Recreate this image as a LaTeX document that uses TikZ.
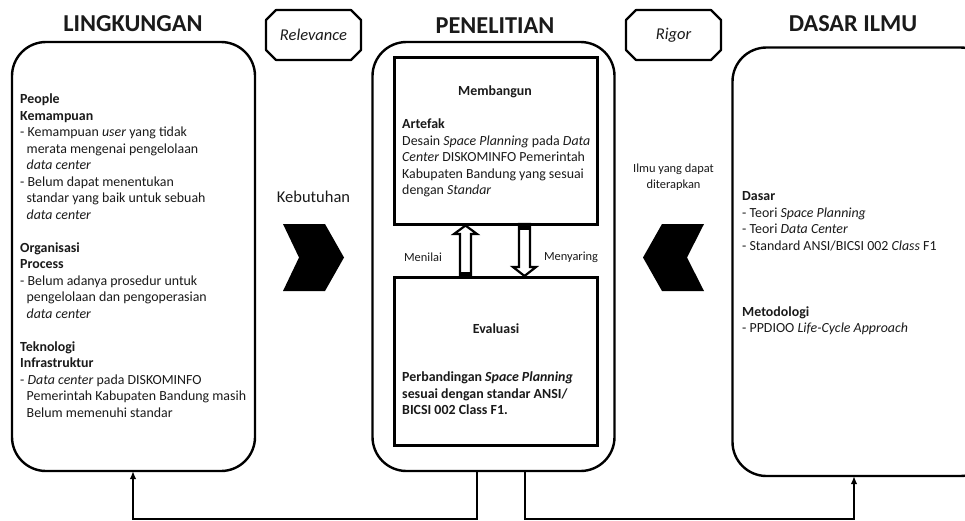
\documentclass[tikz,border=0pt]{standalone}
\usepackage{fontspec}
\setmainfont{Carlito}
\usetikzlibrary{arrows.meta}
\definecolor{ink}{HTML}{1A1A1A}
\newcommand{\bodyfont}{\fontsize{13.9}{16.5}\selectfont}
\newcommand{\hang}{\hspace*{6.5pt}}
\tikzset{
  x=1pt,y=-1pt,
  panel/.style={draw=black,line width=2.4pt,fill=white,rounded corners=34pt,minimum width=#1,inner sep=0pt,outer sep=0pt},
  innerbox/.style={draw=black,line width=3pt,fill=white,minimum width=203pt,inner sep=0pt,outer sep=0pt},
  heading/.style={font=\fontsize{24.3}{28}\selectfont\bfseries,text=ink,inner sep=0pt},
  bodytext/.style={font=\bodyfont,text=ink,align=left,anchor=north west,inner sep=0pt},
  tag/.style={font=\fontsize{16.5}{20}\selectfont\itshape,text=ink,inner sep=0pt},
  small/.style={font=\fontsize{12.4}{16}\selectfont,text=ink,inner sep=0pt,align=center},
  octa/.style={draw=black,line width=2.2pt,line join=round,fill=white},
  hollow/.style={draw=black,line width=2.2pt,fill=white,miter limit=4},
  chev/.style={fill=black,draw=none},
  link/.style={draw=black,line width=2pt,-{Latex[length=8pt,width=6.5pt]}},
}
\begin{document}
\begin{tikzpicture}
\useasboundingbox (0,0) rectangle (965,520);
\fill[white] (0,0) rectangle (965,520);
% panels
\node[panel=243pt,minimum height=429pt,anchor=north west] (env) at (12,42) {};
\node[panel=242pt,minimum height=429pt,anchor=north west] (res) at (372.5,42) {};
\node[panel=262pt,minimum height=428.5pt,anchor=north west] (know) at (732.5,47.5) {};
% inner boxes
\node[innerbox,minimum height=167pt,anchor=north west] (build) at (394,57) {};
\node[innerbox,minimum height=168pt,anchor=north west] (eval) at (394,277) {};
% headings
\node[heading] (h1) at (133,24) {LINGKUNGAN};
\node[heading] (h2) at (495,26) {PENELITIAN};
\node[heading] (h3) at (853,24) {DASAR ILMU};
% octagons
\draw[octa] (276,10) -- (351,10) -- (361,20) -- (361,50) -- (351,60) -- (276,60) -- (266,50) -- (266,20) -- cycle;
\node[tag] (rel) at (313.5,35) {Relevance};
\draw[octa] (636,10) -- (711,10) -- (721,20) -- (721,50) -- (711,60) -- (636,60) -- (626,50) -- (626,20) -- cycle;
\node[tag] (rig) at (673.5,35) {Rigor};
% left text
\node[bodytext] (envtext) at (20,94) {\textbf{People}\\
\textbf{Kemampuan}\\
- Kemampuan \textit{user} yang tidak\\
\hang merata mengenai pengelolaan\\
\hang\textit{data center}\\
- Belum dapat menentukan\\
\hang standar yang baik untuk sebuah\\
\hang\textit{data center}\\
\mbox{}\\
\textbf{Organisasi}\\
\textbf{Process}\\
- Belum adanya prosedur untuk\\
\hang pengelolaan dan pengoperasian\\
\hang\textit{data center}\\
\mbox{}\\
\textbf{Teknologi}\\
\textbf{Infrastruktur}\\
- \textit{Data center} pada DISKOMINFO\\
\hang Pemerintah Kabupaten Bandung masih\\
\hang Belum memenuhi standar};
% center text
\node[font=\bodyfont\bfseries,text=ink,inner sep=0pt] (m1) at (495,92) {Membangun};
\node[bodytext] (art) at (402,119) {\textbf{Artefak}\\
Desain \textit{Space Planning} pada \textit{Data}\\
\textit{Center} DISKOMINFO Pemerintah\\
Kabupaten Bandung yang sesuai\\
dengan \textit{Standar}};
\node[font=\bodyfont\bfseries,text=ink,inner sep=0pt] (m2) at (496,328.5) {Evaluasi};
\node[bodytext,font=\bodyfont\bfseries] (cmp) at (402,372) {Perbandingan \textit{Space Planning}\\
sesuai dengan standar ANSI/\\
BICSI 002 Class F1.};
% right text
\node[bodytext] (knowtext) at (742,191.5) {\textbf{Dasar}\\
- Teori \textit{Space Planning}\\
- Teori \textit{Data Center}\\
- Standard ANSI/BICSI 002 \textit{Class} F1\\
\mbox{}\\
\mbox{}\\
\mbox{}\\
\textbf{Metodologi}\\
- PPDIOO \textit{Life-Cycle Approach}};
% labels
\node[font=\fontsize{16.5}{20}\selectfont,text=ink,inner sep=0pt] (need) at (313.5,197) {Kebutuhan};
\node[small,font=\fontsize{12.4}{15.5}\selectfont] (apply) at (673.5,177) {Ilmu yang dapat\\diterapkan};
\node[small] (nilai) at (423,257) {Menilai};
\node[small] (saring) at (571,257) {Menyaring};
% chevrons
\fill[chev] (283,224) -- (325,224) -- (344,257.5) -- (325,291) -- (283,291) -- (299,257.5) -- cycle;
\fill[chev] (704,224) -- (662,224) -- (643,257.5) -- (662,291) -- (704,291) -- (687,257.5) -- cycle;
% hollow arrows
\draw[hollow] (460,277) -- (460,234) -- (454,234) -- (465.5,225.5) -- (477,234) -- (471,234) -- (471,277) -- cycle;
\fill[black] (459,271.5) rectangle (472,278);
\draw[hollow] (519,224) -- (519,267) -- (513,267) -- (524.5,276) -- (536,267) -- (530,267) -- (530,224) -- cycle;
\fill[black] (518,223) rectangle (531,229.5);
% feedback connectors
\coordinate (c1) at (476.5,519);
\coordinate (c2) at (524.5,519);
\coordinate (t1) at (133,519);
\coordinate (t2) at (854,519);
\draw[link] (res.south -| c1) -- (c1) -- (t1) -- (env.south -| t1);
\draw[link] (res.south -| c2) -- (c2) -- (t2) -- (know.south -| t2);
\end{tikzpicture}
\end{document}
